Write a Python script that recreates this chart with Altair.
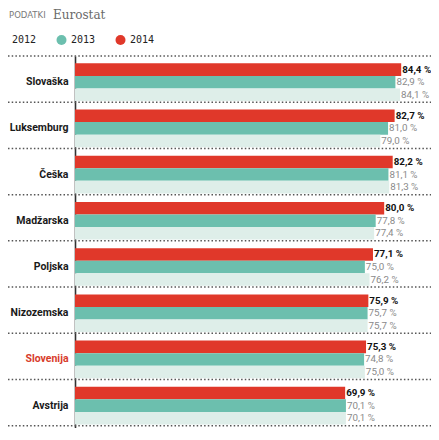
import altair as alt
import pandas as pd

# ---- data ----
countries = ["Slovaška", "Luksemburg", "Češka", "Madžarska", "Poljska",
             "Nizozemska", "Slovenija", "Avstrija", "EU-28"]
v2014 = [84.4, 82.7, 82.2, 80.0, 77.1, 75.9, 75.3, 69.9, 57.9]
v2013 = [82.9, 81.0, 81.1, 77.8, 75.0, 75.7, 74.8, 70.1]
v2012 = [84.1, 79.0, 81.3, 77.4, 76.2, 75.7, 75.0, 70.1]
years = ["2012", "2013", "2014"]
year_colors = ["#deeee9", "#6cbfae", "#e0382a"]
source_label = ["PODATKI"]
source_name = ["Eurostat"]
highlight = "Slovenija"
offscreen = "EU-28"   # last row, cut off by the bottom edge in the reference

rows = []
for vals, yr in ((v2014, "2014"), (v2013, "2013"), (v2012, "2012")):
    for c, v in zip(countries, vals):
        rows.append({"country": c, "year": yr, "value": v,
                     "label": f"{v:.1f}".replace(".", ",") + " %"})
df = pd.DataFrame(rows)
sep = pd.DataFrame({"country": countries})

VALFONT = "Roboto"

W, H = 356, 372
y_scale = alt.Scale(domain=countries, range=[0, 422],
                    paddingInner=0.185, paddingOuter=0.159)
yoff_scale = alt.Scale(domain=["2014", "2013", "2012"], paddingInner=0, paddingOuter=0)
x_scale = alt.Scale(domain=[0, 92.11], nice=False, zero=True)

y_axis = alt.Axis(domain=True, domainColor="#333333", domainWidth=1.6,
                  ticks=False, grid=False, labelPadding=7,
                  labelFont="Roboto", labelFontSize=10.5,
                  labelFontWeight="bold",
                  labelExpr=f"datum.value === '{offscreen}' ? '' : datum.label",
                  labelColor={"condition": {"test": f"datum.value === '{highlight}'",
                                            "value": "#d83c2b"},
                              "value": "#1a1a1a"})
Y = alt.Y("country:N", scale=y_scale, sort=countries, title=None, axis=y_axis)
YO = alt.YOffset("year:N", scale=yoff_scale, sort=["2014", "2013", "2012"])
X = alt.X("value:Q", scale=x_scale, axis=None)

bars = alt.Chart(df).mark_bar().encode(
    y=Y, yOffset=YO, x=X,
    color=alt.Color("year:N", scale=alt.Scale(domain=years, range=year_colors),
                    legend=alt.Legend(title=None, orient="none", direction="horizontal",
                                      legendX=-77.5, legendY=-21, padding=0,
                                      symbolType="circle", symbolSize=100,
                                      symbolStrokeWidth=0, symbolOpacity=1,
                                      labelFont="DejaVu Sans Mono", labelFontSize=10,
                                      labelColor="#222222", labelOffset=4.5,
                                      columnPadding=20)))

seps = alt.Chart(sep).mark_rule(yOffset=-7.3, strokeDash=[1.5, 2.2],
                                color="#555555", strokeWidth=1.5).encode(
    y=alt.Y("country:N", scale=y_scale, sort=countries, bandPosition=0,
            title=None, axis=y_axis),
    x=alt.value(-67), x2=alt.value(W))

lab14 = alt.Chart(df).transform_filter("datum.year === '2014'").mark_text(
    align="left", baseline="middle", dx=1, font=VALFONT,
    fontSize=9.8, fontWeight="bold", color="#111111").encode(
    y=Y, yOffset=YO, x=X, text="label:N")

labOld = alt.Chart(df).transform_filter("datum.year !== '2014'").mark_text(
    align="left", baseline="middle", dx=1, font=VALFONT,
    fontSize=9.8, color="#8a8a8a").encode(
    y=Y, yOffset=YO, x=X, text="label:N")

src1 = alt.Chart(pd.DataFrame({"t": source_label})).mark_text(
    align="left", baseline="middle", font="DejaVu Sans", fontSize=8.5,
    color="#7a7a7a").encode(text="t:N", x=alt.value(-66), y=alt.value(-41))
src2 = alt.Chart(pd.DataFrame({"t": source_name})).mark_text(
    align="left", baseline="middle", font="DejaVu Serif", fontSize=12,
    color="#6a6a6a").encode(text="t:N", x=alt.value(-22), y=alt.value(-41))

chart = alt.layer(bars, seps, lab14, labOld, src1, src2).properties(
    width=W, height=H,
    autosize=alt.AutoSizeParams(type="none"),
    padding={"left": 67, "top": 48, "right": 0, "bottom": 0},
).configure_view(strokeWidth=0)

chart.save("out.html", embed_options={"renderer": "svg", "actions": False})
